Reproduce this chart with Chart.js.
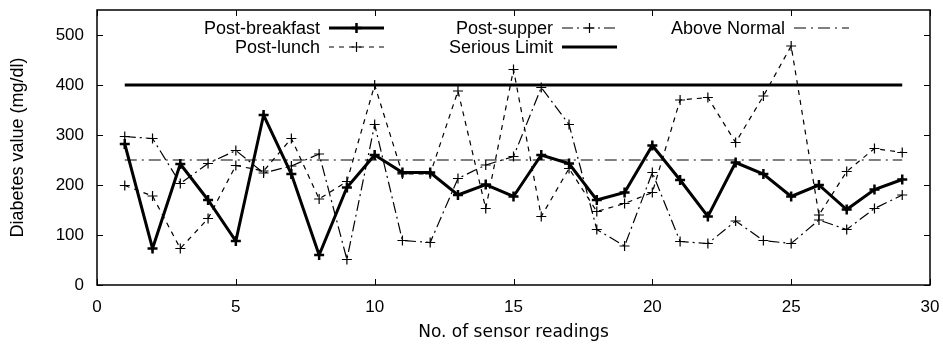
<!DOCTYPE html>
<html>
<head>
<meta charset="utf-8">
<script src="https://cdn.jsdelivr.net/npm/chart.js@4/dist/chart.umd.min.js"></script>
<style>
  html, body { margin: 0; padding: 0; background: #fff; }
  canvas { display: block; }
</style>
</head>
<body>
<canvas id="chart" width="943" height="344"></canvas>
<script>
// 数据
const readings = [1, 2, 3, 4, 5, 6, 7, 8, 9, 10, 11, 12, 13, 14, 15, 16, 17, 18, 19, 20, 21, 22, 23, 24, 25, 26, 27, 28, 29];
const postBreakfast = [282, 73, 242, 170, 88, 340, 222, 60, 195, 260, 225, 225, 180, 201, 177, 260, 243, 170, 185, 279, 210, 137, 245, 222, 177, 200, 151, 191, 211];
const postLunch = [199, 178, 73, 133, 239, 228, 293, 172, 207, 400, 222, 222, 388, 153, 431, 137, 233, 147, 163, 185, 370, 375, 285, 378, 478, 140, 227, 273, 265];
const postSupper = [297, 293, 203, 243, 269, 224, 238, 262, 51, 321, 89, 85, 213, 240, 257, 395, 321, 111, 78, 225, 87, 83, 128, 89, 83, 130, 111, 153, 180];
const seriousLimit = 400;
const aboveNormal = 250;
const xTicks = [0, 5, 10, 15, 20, 25, 30];
const yTicks = [0, 100, 200, 300, 400, 500];

const toPoints = (vals) => vals.map((v, i) => ({ x: readings[i], y: v }));
const flatLine = (v) => [{ x: readings[0], y: v }, { x: readings[readings.length - 1], y: v }];

// 图例：gnuplot 风格，文字在左，线条样本在右
const legendPlugin = {
  id: 'gnuLegend',
  afterDraw(chart) {
    const ctx = chart.ctx;
    const items = [
      { ds: 0, right: 320, y: 28 },
      { ds: 1, right: 320, y: 47 },
      { ds: 2, right: 553, y: 28 },
      { ds: 3, right: 553, y: 47 },
      { ds: 4, right: 785, y: 28 }
    ];
    ctx.save();
    ctx.font = '18px "Liberation Sans", Arial, sans-serif';
    ctx.fillStyle = '#000';
    ctx.textAlign = 'right';
    ctx.textBaseline = 'middle';
    items.forEach(it => {
      const ds = chart.data.datasets[it.ds];
      ctx.fillText(ds.label, it.right, it.y + 1);
      const x0 = it.right + 9, x1 = it.right + 64;
      ctx.strokeStyle = '#000';
      ctx.lineWidth = ds.borderWidth;
      ctx.setLineDash(ds.borderDash || []);
      ctx.beginPath();
      ctx.moveTo(x0, it.y);
      ctx.lineTo(x1, it.y);
      ctx.stroke();
      if (ds.pointRadius > 0) {
        const cx = (x0 + x1) / 2, r = ds.pointRadius;
        ctx.setLineDash([]);
        ctx.lineWidth = ds.pointBorderWidth;
        ctx.beginPath();
        ctx.moveTo(cx - r, it.y); ctx.lineTo(cx + r, it.y);
        ctx.moveTo(cx, it.y - r); ctx.lineTo(cx, it.y + r);
        ctx.stroke();
      }
    });
    ctx.restore();
  }
};

// 边框和朝内的刻度线
const framePlugin = {
  id: 'frame',
  afterDraw(chart) {
    const ctx = chart.ctx;
    const a = chart.chartArea;
    const xs = chart.scales.x, ys = chart.scales.y;
    const tl = 6;
    ctx.save();
    ctx.strokeStyle = '#000';
    ctx.lineWidth = 1.5;
    ctx.setLineDash([]);
    ctx.strokeRect(a.left, a.top, a.right - a.left, a.bottom - a.top);
    ctx.lineWidth = 1;
    ctx.beginPath();
    xTicks.forEach(v => {
      const px = Math.round(xs.getPixelForValue(v)) + 0.5;
      ctx.moveTo(px, a.bottom); ctx.lineTo(px, a.bottom - tl);
      ctx.moveTo(px, a.top); ctx.lineTo(px, a.top + tl);
    });
    yTicks.forEach(v => {
      const py = Math.round(ys.getPixelForValue(v)) + 0.5;
      ctx.moveTo(a.left, py); ctx.lineTo(a.left + tl, py);
      ctx.moveTo(a.right, py); ctx.lineTo(a.right - tl, py);
    });
    ctx.stroke();
    ctx.restore();
  }
};

const chart = new Chart(document.getElementById('chart'), {
  type: 'line',
  data: {
    datasets: [
      {
        label: 'Post-breakfast',
        data: toPoints(postBreakfast),
        borderColor: '#000',
        borderWidth: 3,
        pointStyle: 'cross',
        pointRadius: 5,
        pointBorderWidth: 2.5,
        pointBorderColor: '#000',
        tension: 0
      },
      {
        label: 'Post-lunch',
        data: toPoints(postLunch),
        borderColor: '#000',
        borderWidth: 1.2,
        borderDash: [5, 5],
        pointStyle: 'cross',
        pointRadius: 5,
        pointBorderWidth: 1.2,
        pointBorderColor: '#000',
        tension: 0
      },
      {
        label: 'Post-supper',
        data: toPoints(postSupper),
        borderColor: '#000',
        borderWidth: 1.2,
        borderDash: [11, 4, 2, 4],
        pointStyle: 'cross',
        pointRadius: 5,
        pointBorderWidth: 1.2,
        pointBorderColor: '#000',
        tension: 0
      },
      {
        label: 'Serious Limit',
        data: flatLine(seriousLimit),
        borderColor: '#000',
        borderWidth: 3,
        pointRadius: 0,
        tension: 0
      },
      {
        label: 'Above Normal',
        data: flatLine(aboveNormal),
        borderColor: '#000',
        borderWidth: 1.2,
        borderDash: [12, 5, 2, 5],
        pointRadius: 0,
        tension: 0
      }
    ]
  },
  options: {
    responsive: false,
    animation: false,
    devicePixelRatio: 1,
    layout: { padding: { left: 0, right: 13, top: 10, bottom: 0 } },
    plugins: {
      legend: { display: false },
      tooltip: { enabled: false }
    },
    scales: {
      x: {
        type: 'linear',
        min: 0,
        max: 30,
        grid: { display: false, drawTicks: false },
        border: { display: false },
        afterBuildTicks: (s) => { s.ticks = xTicks.map(v => ({ value: v })); },
        afterFit: (s) => { s.height = 59; s.paddingLeft = 0; s.paddingRight = 0; },
        ticks: {
          padding: 12,
          color: '#000',
          font: { family: '"Liberation Sans", Arial, sans-serif', size: 17 }
        },
        title: {
          display: true,
          text: 'No. of sensor readings',
          color: '#000',
          font: { family: '"DejaVu Sans", sans-serif', size: 17 },
          padding: { top: 0, bottom: 1 }
        }
      },
      y: {
        min: 0,
        max: 550,
        grid: { display: false, drawTicks: false },
        border: { display: false },
        afterBuildTicks: (s) => { s.ticks = yTicks.map(v => ({ value: v })); },
        afterFit: (s) => { s.width = 97; s.paddingTop = 0; s.paddingBottom = 0; },
        ticks: {
          padding: 13,
          color: '#000',
          font: { family: '"Liberation Sans", Arial, sans-serif', size: 17 }
        },
        title: {
          display: true,
          text: 'Diabetes value (mg/dl)',
          color: '#000',
          font: { family: '"Liberation Sans", Arial, sans-serif', size: 18 },
          padding: { top: 7, bottom: 0 }
        }
      }
    }
  },
  plugins: [legendPlugin, framePlugin]
});
</script>
</body>
</html>
